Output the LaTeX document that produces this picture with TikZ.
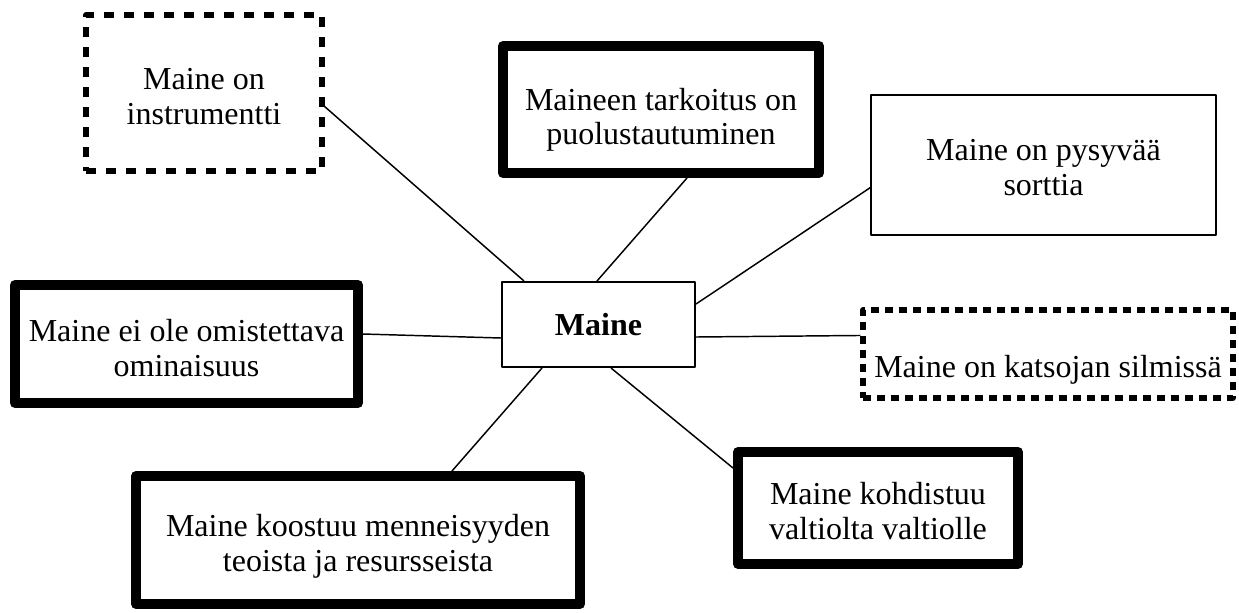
\documentclass[tikz,border=0pt]{standalone}
\usepackage{fontspec}
\setmainfont{Liberation Serif}
\usepackage{tikz}
\usetikzlibrary{calc}

\newcommand{\drop}[1]{\rule{0pt}{#1}}

\begin{document}
\begin{tikzpicture}[x=0.75pt,y=0.75pt,yscale=-1,xscale=1,
  box/.style={draw=black,rectangle,inner sep=0pt,align=center,line join=round,
    font=\fontsize{24}{26}\selectfont},
  thinbox/.style={box,line width=0.8pt},
  thickbox/.style={box,line width=7.5pt},
  dashbox/.style={box,line width=3.8pt},
  conn/.style={draw=black,line width=1.1pt}]
%set diagram size to 1239 x 612
\useasboundingbox (0,0) rectangle (1239,612);

%Shape: Rectangle [center]
\node (ctr) [box,line width=1.5pt,minimum width=144.75pt,minimum height=63.75pt] at (598.5,324.5) {\textbf{Maine}};
%Shape: Rectangle [dashed]
\node (instr) [dashbox,dash pattern=on 7.5pt off 7.5pt,minimum width=177pt,minimum height=117pt] at (204,93) {\drop{21pt}Maine on\\instrumentti};
%Shape: Rectangle [thick]
\node (tark) [thickbox,minimum width=237pt,minimum height=95.25pt] at (661,109.5) {\drop{32pt}Maineen tarkoitus on\\puolustautuminen};
%Shape: Rectangle [thin]
\node (pysy) [thinbox,minimum width=258.75pt,minimum height=105pt] at (1043.5,165) {\drop{20pt}Maine on pysyvää\\sorttia};
%Shape: Rectangle [thick]
\node (omis) [thickbox,minimum width=257.25pt,minimum height=88.5pt] at (186.5,344) {\drop{23pt}Maine ei ole omistettava\\ominaisuus};
%Shape: Rectangle [dashed]
\node (kats) [dashbox,dash pattern=on 6pt off 4.5pt,minimum width=277.5pt,minimum height=66pt] at (1048,354) {\drop{41pt}Maine on katsojan silmissä};
%Shape: Rectangle [thick]
\node (kohd) [thickbox,minimum width=210pt,minimum height=84pt] at (878,508) {\drop{21pt}Maine kohdistuu\\valtiolta valtiolle};
%Shape: Rectangle [thick]
\node (koost) [thickbox,minimum width=333pt,minimum height=96pt] at (358,540) {\drop{26pt}Maine koostuu menneisyyden\\teoista ja resursseista};

%Straight Lines
\draw [conn] ($(ctr.north west)+(23,0)$) -- ($(instr.north east)+(0,94)$);
\draw [conn] ($(ctr.north west)+(96,0)$) -- ($(tark.south west)+(189,0)$);
\draw [conn] ($(ctr.north east)+(0,23)$) -- ($(pysy.north west)+(0,93)$);
\draw [conn] ($(ctr.north east)+(0,56)$) -- ($(kats.north west)+(0,28)$);
\draw [conn] ($(ctr.north west)+(0,57)$) -- ($(omis.north east)+(0,54)$);
\draw [conn] ($(ctr.south west)+(41,0)$) -- ($(koost.north west)+(321,0)$);
\draw [conn] ($(ctr.south west)+(110,0)$) -- ($(kohd.north west)+(0,21)$);

\end{tikzpicture}
\end{document}
